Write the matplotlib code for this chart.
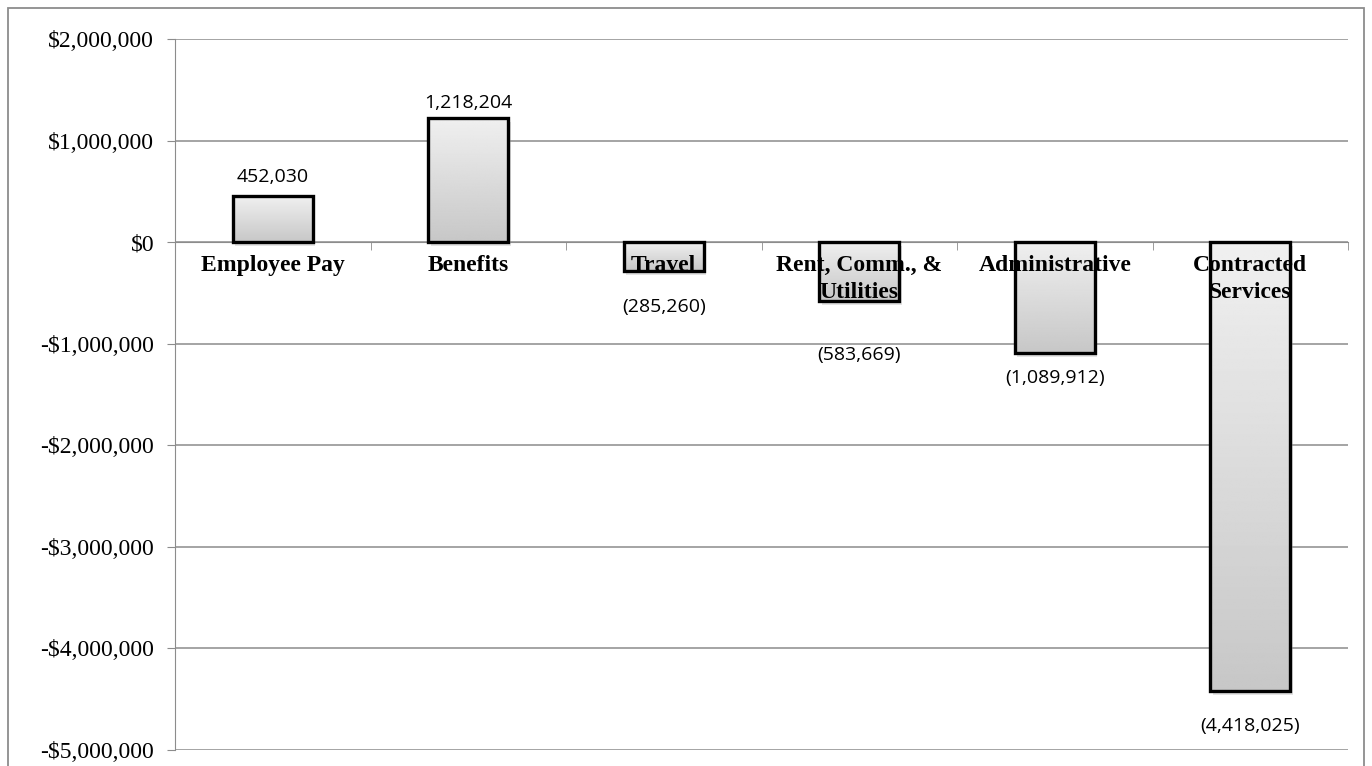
import numpy as np
import matplotlib.pyplot as plt
from matplotlib.patches import Rectangle
from matplotlib.ticker import FuncFormatter

categories = ['Employee Pay', 'Benefits', 'Travel', 'Rent, Comm., &\nUtilities',
              'Administrative', 'Contracted\nServices']
values = [452030, 1218204, -285260, -583669, -1089912, -4418025]
value_labels = ['452,030', '1,218,204', '(285,260)', '(583,669)', '(1,089,912)', '(4,418,025)']
label_dy = [19, 15, -36, -54, -25, -35]  # pixel offset of each value label from bar end

fig = plt.figure(figsize=(13.72, 7.66), dpi=100)
ax = fig.add_axes([175 / 1372, 1 - 750 / 766, (1348 - 175) / 1372, (750 - 39) / 766])

# outer chart border
fig.patches.append(Rectangle((8 / 1372, -0.05), (1364 - 8) / 1372, 1 - 8 / 766 + 0.05,
                             transform=fig.transFigure, fill=False, edgecolor='#8c8c8c', lw=1.3))

x = np.arange(len(categories))
bars = ax.bar(x, values, width=0.41, facecolor='none', edgecolor='black', lw=2.4, zorder=3)

# gray gradient fill clipped to each bar
grad = np.linspace(0.94, 0.78, 256).reshape(-1, 1)
for b in bars:
    x0, y0 = b.get_x(), b.get_y()
    w, h = b.get_width(), b.get_height()
    ylo, yhi = min(y0, y0 + h), max(y0, y0 + h)
    im = ax.imshow(grad, cmap='gray', vmin=0, vmax=1, aspect='auto',
                   extent=(x0, x0 + w, ylo, yhi), origin='upper', zorder=2)
    im.set_clip_path(b)
    # soft shadow
    ax.add_patch(Rectangle((x0 + 0.012, ylo - 40000), w, yhi - ylo, facecolor='#b0b0b0',
                           edgecolor='none', alpha=0.35, zorder=1.5))

for i, (v, lab) in enumerate(zip(values, value_labels)):
    ax.annotate(lab, (x[i], v), xytext=(0, label_dy[i] * 0.72), textcoords='offset points',
                ha='center', va='center', fontsize=14, family='Open Sans', zorder=5)

ax.set_xlim(-0.5, len(categories) - 0.5)
ax.set_ylim(-5000000, 2000000)
ax.set_yticks(np.arange(-5000000, 2000001, 1000000))
ax.yaxis.set_major_formatter(FuncFormatter(
    lambda v, p: ('-$' if v < 0 else '$') + f'{abs(v):,.0f}'))
ax.grid(axis='y', color='#8c8c8c', lw=1.1, zorder=0)
ax.set_axisbelow(True)

for s in ['top', 'right']:
    ax.spines[s].set_visible(False)
ax.spines['left'].set_color('#8c8c8c')
ax.spines['bottom'].set_color('#8c8c8c')
ax.spines['bottom'].set_position(('data', 0))
ax.spines['bottom'].set_zorder(0)

ax.set_xticks(x)
ax.set_xticklabels(categories, fontsize=17, fontweight='bold', family='Liberation Serif',
                   linespacing=1.4, va='top')
ax.set_xticks(np.arange(0.5, len(categories)), minor=True)
ax.tick_params(axis='x', which='major', length=0, pad=9)
ax.tick_params(axis='x', which='minor', length=6, color='#8c8c8c', direction='out')
ax.tick_params(axis='y', length=6, color='#8c8c8c', labelsize=17, pad=9)
for t in ax.get_yticklabels():
    t.set_family('Liberation Serif')
ax.xaxis.set_zorder(6)  # category labels sit on top of the bars

fig.savefig('out.png', dpi=100)
